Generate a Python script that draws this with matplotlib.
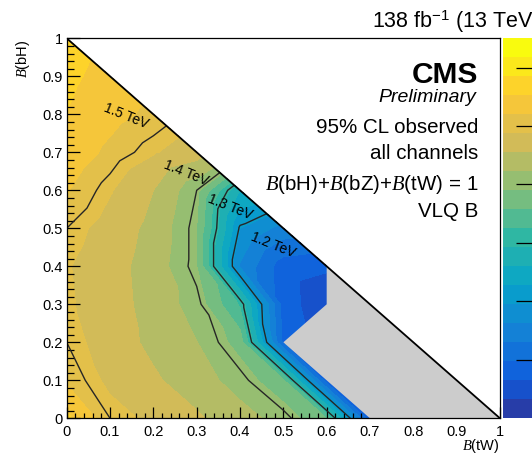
import numpy as np
import matplotlib
matplotlib.use("Agg")
import matplotlib.pyplot as plt
import matplotlib.tri as mtri
from matplotlib.colors import LinearSegmentedColormap, ListedColormap, BoundaryNorm
from matplotlib.cm import ScalarMappable
from matplotlib.ticker import MultipleLocator

plt.rcParams['font.family'] = ['Liberation Sans', 'DejaVu Sans']
plt.rcParams['mathtext.fontset'] = 'custom'
plt.rcParams['mathtext.rm'] = 'Liberation Sans'
plt.rcParams['mathtext.it'] = 'Liberation Serif:italic'
plt.rcParams['mathtext.bf'] = 'Liberation Sans:bold'

# ---- data -------------------------------------------------------------
grid_step = 0.1
# Observed 95% CL lower limit on the VLQ B mass (TeV).
# One list per B(bH) row (0.0, 0.1, ... 1.0); each row starts at B(tW) = 0.
mass_rows = [
    [1.56, 1.50, 1.48, 1.46, 1.435, 1.41, 1.357, 1.07],    # B(bH) = 0.0
    [1.515, 1.48, 1.46, 1.437, 1.409, 1.363, 1.077],       # 0.1
    [1.50, 1.472, 1.447, 1.423, 1.377, 1.09],              # 0.2
    [1.492, 1.47, 1.442, 1.409, 1.32, 1.081, 1.04],        # 0.3
    [1.49, 1.468, 1.44, 1.39, 1.159, 1.08, 1.07],          # 0.4
    [1.50, 1.475, 1.445, 1.39, 1.195, 1.15],               # 0.5
    [1.522, 1.49, 1.455, 1.40, 1.26],                      # 0.6
    [1.54, 1.513, 1.49, 1.47],                             # 0.7
    [1.552, 1.53, 1.513],                                  # 0.8
    [1.56, 1.54],                                          # 0.9
    [1.568],                                               # 1.0
]
# extra scan points on the B(bH)+B(tW)=1 edge
edge_tw = [0.35, 0.45]
edge_bh = [0.65, 0.55]
edge_mass = [1.41, 1.215]

# region of the plane without limits
nodata_tw = [0.5, 0.6, 0.6, 1.0, 0.7]
nodata_bh = [0.2, 0.3, 0.4, 0.0, 0.0]

contour_levels = [1.2, 1.3, 1.4, 1.5]
contour_texts = ["1.2 TeV", "1.3 TeV", "1.4 TeV", "1.5 TeV"]
contour_text_tw = [0.477, 0.377, 0.275, 0.137]
contour_text_bh = [0.455, 0.555, 0.646, 0.795]

z_min, z_max, n_bands = 1.0, 1.65, 20
cbar_ticks = [1.1, 1.2, 1.3, 1.4, 1.5, 1.6]
axis_ticks = [0.0, 0.1, 0.2, 0.3, 0.4, 0.5, 0.6, 0.7, 0.8, 0.9, 1.0]
axis_tick_labels = ['0', '0.1', '0.2', '0.3', '0.4', '0.5', '0.6', '0.7', '0.8', '0.9', '1']

# ---- scan points and triangulation --------------------------------------
node = {}
tw, bh, mass = [], [], []
for j, row in enumerate(mass_rows):
    for i, m in enumerate(row):
        node[(i, j)] = len(tw)
        tw.append(i * grid_step)
        bh.append(j * grid_step)
        mass.append(m)
mid = {}
for x, y, m in zip(edge_tw, edge_bh, edge_mass):
    key = (int(round(x / grid_step - 0.5)), int(round(y / grid_step - 0.5)))
    mid[key] = len(tw)
    tw.append(x)
    bh.append(y)
    mass.append(m)

triangles = []
for (i, j), a in list(node.items()):
    b = node.get((i + 1, j))
    c = node.get((i, j + 1))
    d = node.get((i + 1, j + 1))
    if b is not None and c is not None:
        if (i, j) in mid:
            m = mid[(i, j)]
            triangles += [[a, b, m], [a, m, c]]
        else:
            triangles.append([a, b, c])
        if d is not None:
            triangles.append([b, d, c])
    elif c is not None and d is not None:
        triangles.append([a, d, c])

tri = mtri.Triangulation(np.array(tw), np.array(bh), np.array(triangles))
mass = np.array(mass)

# ---- ROOT "bird" palette -------------------------------------------------
stops = [0.0, 0.125, 0.25, 0.375, 0.5, 0.625, 0.75, 0.875, 1.0]
red = [0.2082, 0.0592, 0.0780, 0.0232, 0.1802, 0.5301, 0.8186, 0.9956, 0.9764]
green = [0.1664, 0.3599, 0.5041, 0.6419, 0.7178, 0.7492, 0.7328, 0.7862, 0.9832]
blue = [0.5293, 0.8684, 0.8385, 0.7914, 0.6425, 0.4662, 0.3499, 0.1968, 0.0539]
bird = LinearSegmentedColormap.from_list(
    'bird', [(s, (r, g, b_)) for s, r, g, b_ in zip(stops, red, green, blue)])
band_colors = [bird((k + 1) / n_bands) for k in range(n_bands)]
band_cmap = ListedColormap(band_colors)
levels = np.linspace(z_min, z_max, n_bands + 1)
norm = BoundaryNorm(levels, n_bands)

# ---- figure ---------------------------------------------------------------
W, H = 532, 454
fig = plt.figure(figsize=(W / 100, H / 100), dpi=100)
ax = fig.add_axes([66.7 / W, (H - 418.3) / H, 433.3 / W, 380 / H])

ax.tricontourf(tri, mass, levels=levels, cmap=band_cmap, norm=norm)
ax.fill(nodata_tw, nodata_bh, color='#cccccc', lw=0, zorder=2)
ax.tricontour(tri, mass, levels=contour_levels, colors='#262626',
              linewidths=1.0, zorder=3)
ax.plot([0, 1], [1, 0], color='black', lw=1.3, zorder=4, solid_capstyle='butt')

for txt, x, y in zip(contour_texts, contour_text_tw, contour_text_bh):
    ax.text(x, y, txt, rotation=-22, rotation_mode='anchor', ha='center',
            va='center', fontsize=10, color='black', zorder=5)

ax.set_xlim(0, 1)
ax.set_ylim(0, 1)
ax.set_xticks(axis_ticks)
ax.set_xticklabels(axis_tick_labels)
ax.set_yticks(axis_ticks)
ax.set_yticklabels(axis_tick_labels)
ax.xaxis.set_minor_locator(MultipleLocator(0.02))
ax.yaxis.set_minor_locator(MultipleLocator(0.02))
ax.tick_params(axis='both', which='both', direction='in', top=False, right=False,
               labelsize=10.5, width=0.9, color='black')
ax.tick_params(axis='x', which='major', length=7.6, pad=5.0)
ax.tick_params(axis='x', which='minor', length=3.6)
ax.tick_params(axis='y', which='major', length=9.4, pad=2.7)
ax.tick_params(axis='y', which='minor', length=4.7)
for sp in ax.spines.values():
    sp.set_linewidth(0.9)
    sp.set_zorder(6)

# colour scale (its value labels sit beyond the right edge of the canvas)
cax = fig.add_axes([503.3 / W, (H - 418.3) / H, 40 / W, 380 / H])
cb = fig.colorbar(ScalarMappable(norm=norm, cmap=band_cmap), cax=cax,
                  ticks=cbar_ticks)
cb.outline.set_visible(False)
cax.tick_params(direction='in', length=19.2, width=0.9, color='black',
                labelright=False)
cax.minorticks_off()

# axis titles
fig.text(23 / W, 1 - 40 / H, r'$B$(bH)', rotation=90, ha='center', va='top',
         fontsize=10.5)
fig.text(500 / W, 1 - 450 / H, r'$B$(tW)', ha='right', va='baseline',
         fontsize=10.5)

# labels
fig.text(371.7 / W, 1 - 28 / H, r'138 fb$^{-1}$ (13 TeV)', ha='left',
         va='baseline', fontsize=15.5)
fig.text(478 / W, 1 - 83 / H, 'CMS', ha='right', va='baseline', fontsize=21.5,
         fontweight='bold')
fig.text(476 / W, 1 - 102 / H, 'Preliminary', ha='right', va='baseline',
         fontsize=14, fontstyle='italic')
fig.text(478 / W, 1 - 133 / H, '95% CL observed', ha='right', va='baseline',
         fontsize=14.8)
fig.text(478 / W, 1 - 159 / H, 'all channels', ha='right', va='baseline',
         fontsize=14.8)
fig.text(478 / W, 1 - 190 / H, r'$B$(bH)+$B$(bZ)+$B$(tW) = 1', ha='right',
         va='baseline', fontsize=14.8)
fig.text(478 / W, 1 - 216.7 / H, 'VLQ B', ha='right', va='baseline',
         fontsize=14.8)

fig.savefig('out.png', dpi=100)
